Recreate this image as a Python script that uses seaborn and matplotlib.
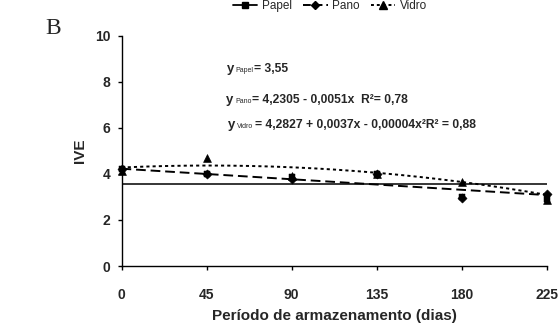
import numpy as np
import pandas as pd
import matplotlib
matplotlib.use("Agg")
import matplotlib.pyplot as plt
import seaborn as sns
from matplotlib.lines import Line2D

# ---- data ----
dias = [0, 45, 90, 135, 180, 225]
papel = [4.2, 4.0, 3.85, 4.0, 3.0, 2.9]
pano = [4.2, 4.0, 3.8, 4.0, 2.95, 3.15]
vidro = [4.15, 4.7, 3.9, 4.0, 3.65, 2.85]
coef_papel = [3.55]
coef_pano = [4.2305, -0.0051]
coef_vidro = [4.2827, 0.0037, -0.00004]
xticks = [0, 45, 90, 135, 180, 225]
yticks = [0, 2, 4, 6, 8, 10]

sns.set_style("ticks")
plt.rcParams['font.family'] = ['Liberation Sans', 'DejaVu Sans']

W, H = 560, 329
fig = plt.figure(figsize=(W / 100, H / 100), dpi=100)
ax = fig.add_axes([121.5 / W, 1 - 266 / H, 425.5 / W, 230 / H])

xg = np.linspace(0, 225, 200)
def poly(c, x):
    return sum(ci * x**i for i, ci in enumerate(c)) * np.ones_like(x)

trend = pd.DataFrame({"x": xg, "papel": poly(coef_papel, xg),
                      "pano": poly(coef_pano, xg), "vidro": poly(coef_vidro, xg)})
sns.lineplot(data=trend, x="x", y="papel", ax=ax, color="black", lw=1.1)
sns.lineplot(data=trend, x="x", y="pano", ax=ax, color="black", lw=1.4)
ax.lines[-1].set_dashes([5, 2.5])
sns.lineplot(data=trend, x="x", y="vidro", ax=ax, color="black", lw=1.4)
ax.lines[-1].set_dashes([1.6, 1.6])

pts = pd.DataFrame({"dias": dias, "papel": papel, "pano": pano, "vidro": vidro})
sns.scatterplot(data=pts, x="dias", y="papel", ax=ax, marker="s", s=20, color="black", edgecolor="black", zorder=3, clip_on=False)
sns.scatterplot(data=pts, x="dias", y="pano", ax=ax, marker="D", s=22, color="black", edgecolor="black", zorder=4, clip_on=False)
sns.scatterplot(data=pts, x="dias", y="vidro", ax=ax, marker="^", s=32, color="black", edgecolor="black", zorder=4, clip_on=False)

ax.set_xlim(0, 225)
ax.set_ylim(0, 10)
ax.set_xticks(xticks)
ax.set_yticks(yticks)
ax.tick_params(axis='both', direction='out', length=3, width=1, color='black', labelsize=10)
ax.tick_params(axis='x', pad=13)
ax.tick_params(axis='y', pad=5)
for lab in ax.get_xticklabels() + ax.get_yticklabels():
    lab.set_fontweight('bold')
for s in ['left', 'bottom']:
    ax.spines[s].set_color('black')
    ax.spines[s].set_linewidth(1)
sns.despine(ax=ax)
ax.set_xlabel("Período de armazenamento (dias)", fontsize=11, fontweight='bold', labelpad=5)
ax.set_ylabel("IVE", fontsize=11, fontweight='bold', labelpad=6)

# panel letter
fig.text(45 / W, 1 - 28 / H, "B", fontsize=17, family='Liberation Serif', va='center', ha='left')

# equations
def eq(xy, xsub, xrest, ypx, sub, rest):
    fig.text(xy / W, 1 - ypx / H, "y", fontsize=9.5, fontweight='bold', va='baseline')
    fig.text(xsub / W, 1 - ypx / H, sub, fontsize=5, va='baseline')
    fig.text(xrest / W, 1 - ypx / H, rest, fontsize=8.7, fontweight='bold', va='baseline')

eq(227, 235, 254, 72, "Papel", "= 3,55")
eq(226, 235, 252, 103, "Pano", "= 4,2305 - 0,0051x  R²= 0,78")
eq(228, 237, 255, 128, "Vidro", "= 4,2827 + 0,0037x - 0,00004x²R² = 0,88")

# legend
handles = [Line2D([], [], color='black', lw=1.3, marker='s', ms=5),
           Line2D([], [], color='black', lw=1.4, marker='D', ms=4.5, dashes=[4, 2]),
           Line2D([], [], color='black', lw=1.4, marker='^', ms=5.5, dashes=[1.5, 1.5])]
fig.legend(handles, ["Papel", "Pano", "Vidro"], loc='center', bbox_to_anchor=(330 / W, 1 - 6 / H),
           ncol=3, frameon=False, fontsize=8.5, handlelength=2.1, columnspacing=0.9,
           handletextpad=0.4, borderaxespad=0, borderpad=0)

fig.savefig("out.png", dpi=100)
